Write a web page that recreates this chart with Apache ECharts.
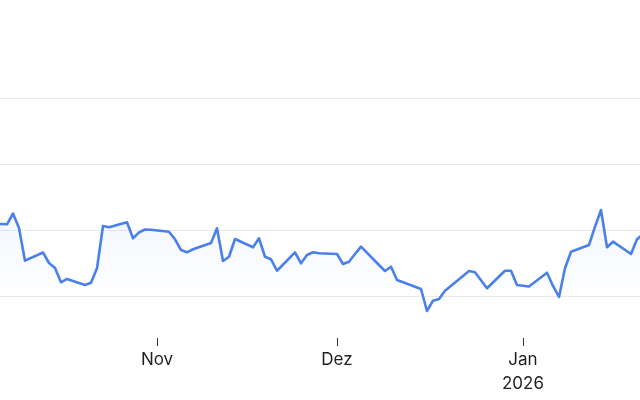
<!DOCTYPE html>
<html>
<head>
<meta charset="utf-8">
<script src="https://cdn.jsdelivr.net/npm/echarts@6/dist/echarts.min.js"></script>
<style>
  html, body { margin: 0; padding: 0; background: #ffffff; }
  #chart { width: 640px; height: 400px; }
</style>
</head>
<body>
<div id="chart"></div>
<script>
// Trading days and values
const dates = [
  '2025-10-03','2025-10-06','2025-10-07','2025-10-08','2025-10-09','2025-10-10',
  '2025-10-13','2025-10-14','2025-10-15','2025-10-16','2025-10-17',
  '2025-10-20','2025-10-21','2025-10-22','2025-10-23','2025-10-24',
  '2025-10-27','2025-10-28','2025-10-29','2025-10-30','2025-10-31',
  '2025-11-03','2025-11-04','2025-11-05','2025-11-06','2025-11-07',
  '2025-11-10','2025-11-11','2025-11-12','2025-11-13','2025-11-14',
  '2025-11-17','2025-11-18','2025-11-19','2025-11-20','2025-11-21',
  '2025-11-24','2025-11-25','2025-11-26','2025-11-27','2025-11-28',
  '2025-12-01','2025-12-02','2025-12-03','2025-12-04','2025-12-05',
  '2025-12-08','2025-12-09','2025-12-10','2025-12-11','2025-12-12',
  '2025-12-15','2025-12-16','2025-12-17','2025-12-18','2025-12-19',
  '2025-12-22','2025-12-23','2025-12-24','2025-12-26',
  '2025-12-29','2025-12-30','2025-12-31','2026-01-02',
  '2026-01-05','2026-01-06','2026-01-07','2026-01-08','2026-01-09',
  '2026-01-12','2026-01-13','2026-01-14','2026-01-15','2026-01-16',
  '2026-01-19','2026-01-20','2026-01-21'
];
const values = [
  110.91,110.91,110.86,112.50,110.30,105.35,
  106.59,105.00,104.24,102.08,102.58,
  101.67,102.02,104.20,110.61,110.41,
  111.17,108.74,109.65,110.08,110.03,
  109.74,108.59,106.97,106.62,107.08,
  108.03,110.26,105.30,105.95,108.64,
  107.38,108.74,105.95,105.56,103.83,
  106.62,104.95,106.21,106.62,106.47,
  106.36,104.85,105.20,106.36,107.47,
  104.70,103.79,104.44,102.42,102.08,
  101.06,97.73,99.29,99.55,100.80,
  103.03,103.79,103.59,101.17,
  103.83,103.83,101.67,101.44,
  103.53,101.52,99.85,104.20,106.71,
  107.73,110.50,113.03,107.38,108.23,
  106.36,108.59,109.39
];
const tickDates = ['2025-11-01','2025-12-01','2026-01-01'];
const tickLabels = ['Nov','Dez','Jan\n2026'];
const viewStart = '2025-10-05 20:00';
const viewEnd = '2026-01-20 12:00';
const yMin = 90, yMax = 130, yStep = 10;

// day number (fractional) counted from 2025-10-01
function toDay(s) {
  const [d, t] = s.split(' ');
  const [y, m, day] = d.split('-').map(Number);
  let hh = 0, mm = 0;
  if (t) { [hh, mm] = t.split(':').map(Number); }
  return (Date.UTC(y, m - 1, day, hh, mm) - Date.UTC(2025, 9, 1)) / 86400000;
}

const seriesData = dates.map((d, i) => [toDay(d), values[i]]);
const tickDays = tickDates.map(toDay);

const chart = echarts.init(document.getElementById('chart'), null, { renderer: 'canvas' });
chart.setOption({
  animation: false,
  backgroundColor: '#ffffff',
  grid: { left: 0, right: 0, top: 98, bottom: 38, containLabel: false },
  xAxis: {
    type: 'value',
    min: toDay(viewStart),
    max: toDay(viewEnd),
    offset: -24,
    axisLine: { show: false },
    axisTick: {
      show: true, length: 8, customValues: tickDays,
      lineStyle: { color: '#333333', width: 1 }
    },
    splitLine: { show: false },
    axisLabel: {
      customValues: tickDays,
      margin: 10,
      fontFamily: 'Inter',
      fontSize: 17,
      lineHeight: 24,
      color: '#1f1f1f',
      formatter: function (val) {
        const idx = tickDays.findIndex(t => Math.abs(t - val) < 1e-6);
        return idx >= 0 ? tickLabels[idx] : '';
      }
    }
  },
  yAxis: {
    type: 'value',
    min: yMin, max: yMax, interval: yStep,
    axisLine: { show: false },
    axisTick: { show: false },
    axisLabel: { show: false },
    splitLine: { show: true, showMinLine: false, lineStyle: { color: '#e9e9e9', width: 1 } }
  },
  series: [{
    type: 'line',
    data: seriesData,
    showSymbol: false,
    symbol: 'none',
    smooth: false,
    clip: true,
    lineStyle: { color: '#4a80ec', width: 2.6, join: 'round', cap: 'round' },
    areaStyle: {
      color: new echarts.graphic.LinearGradient(0, 205, 0, 300, [
        { offset: 0, color: 'rgba(74,128,236,0.10)' },
        { offset: 0.5, color: 'rgba(74,128,236,0.05)' },
        { offset: 1, color: 'rgba(74,128,236,0)' }
      ], true)
    }
  }]
});
</script>
</body>
</html>
